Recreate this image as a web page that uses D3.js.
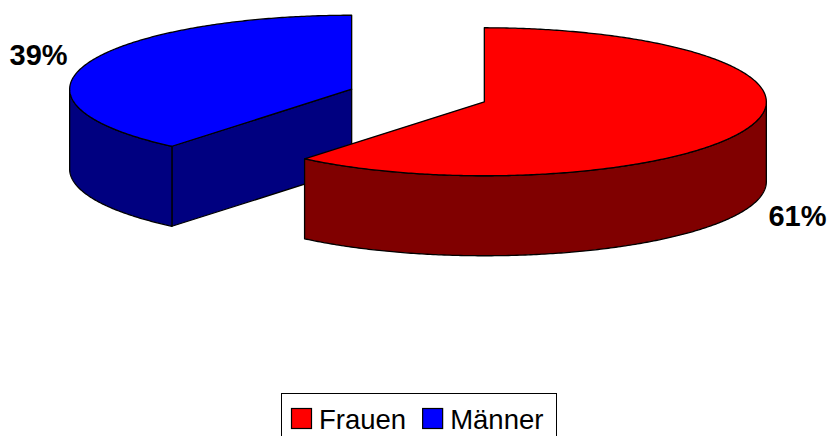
<!DOCTYPE html>
<html><head><meta charset="utf-8">
<script src="https://cdn.jsdelivr.net/npm/d3@7"></script>
<style>
html,body{margin:0;padding:0;background:#fff;}
svg{display:block;}
</style></head>
<body>
<svg id="chart" width="831" height="436"></svg>
<script>
// ---- data ----
const categories = ["Frauen", "Männer"];
const values = [61, 39];
const labels = ["61%", "39%"];
const topColors = ["#FF0000", "#0000FF"];
const sideColors = ["#800000", "#000080"];

// ---- layout ----
const W = 831, H = 436;
const cx = 418, cy = 95.5;     // base pie centre (top face)
const rx = 282, ry = 74;       // ellipse radii of the top face
const depth = 80;              // thickness of the pie
const explode = 0.25;          // radial explosion (fraction of radius)

const svg = d3.select("#chart");

const pie = d3.pie().sort(null).value(d => d)(values);

// scales map unit-circle coordinates to pixels
const sx = d3.scaleLinear().domain([-1, 1]).range([-rx, rx]);
const sy = d3.scaleLinear().domain([-1, 1]).range([-ry, ry]);

function pt(c, a, r = 1, ryk = r) {
  return [c[0] + sx(Math.sin(a) * r), c[1] + sy(-Math.cos(a) * ryk)];
}

const slices = pie.map((p, i) => {
  const mid = (p.startAngle + p.endAngle) / 2;
  const c = [cx + sx(Math.sin(mid) * explode), cy + sy(-Math.cos(mid) * explode)];
  return {p, i, mid, c};
}).sort((a, b) => a.c[1] - b.c[1]);

const line = d3.line();

function arcPts(c, a0, a1, dy = 0) {
  const n = Math.max(2, Math.ceil(Math.abs(a1 - a0) / 0.01));
  const out = [];
  for (let k = 0; k <= n; k++) {
    const a = a0 + (a1 - a0) * k / n;
    const q = pt(c, a);
    out.push([q[0], q[1] + dy]);
  }
  return out;
}

const g = svg.append("g");
const stroke = "#000", sw = 1.3;

slices.forEach(s => {
  const {p, i, c} = s;
  const a0 = p.startAngle, a1 = p.endAngle;
  const sg = g.append("g");

  // radial faces
  const radial = (a) => {
    const r = pt(c, a);
    return [c, r, [r[0], r[1] + depth], [c[0], c[1] + depth]];
  };
  if (Math.sin(a0) < -1e-6) {
    sg.append("path").attr("d", line(radial(a0)) + "Z")
      .attr("fill", sideColors[i]).attr("stroke", stroke).attr("stroke-width", sw).attr("stroke-linejoin", "round");
  }
  if (Math.sin(a1) > 1e-6) {
    sg.append("path").attr("d", line(radial(a1)) + "Z")
      .attr("fill", sideColors[i]).attr("stroke", stroke).attr("stroke-width", sw).attr("stroke-linejoin", "round");
  }

  // outer curved side (front half: PI/2 .. 3PI/2)
  const f0 = Math.max(a0, Math.PI / 2), f1 = Math.min(a1, 3 * Math.PI / 2);
  if (f1 > f0) {
    const topArc = arcPts(c, f0, f1);
    const botArc = arcPts(c, f1, f0, depth);
    sg.append("path").attr("d", line(topArc.concat(botArc)) + "Z")
      .attr("fill", sideColors[i]).attr("stroke", stroke).attr("stroke-width", sw).attr("stroke-linejoin", "round");
  }

  // top face
  const topPts = [c].concat(arcPts(c, a0, a1));
  sg.append("path").attr("d", line(topPts) + "Z")
    .attr("fill", topColors[i]).attr("stroke", stroke).attr("stroke-width", sw).attr("stroke-linejoin", "round");
});

// labels
slices.forEach(s => {
  const {i, mid, c} = s;
  const q = pt(c, mid, 1.18, 1.35);
  const dy = Math.cos(mid) < 0 ? depth : 0;
  svg.append("text")
    .attr("x", q[0]).attr("y", q[1] + dy)
    .attr("text-anchor", "middle")
    .attr("dominant-baseline", "central")
    .attr("font-family", "Liberation Sans, Arial, sans-serif")
    .attr("font-weight", "bold")
    .attr("font-size", 29)
    .attr("fill", "#000")
    .text(labels[i]);
});

// legend
const lg = svg.append("g");
lg.append("rect").attr("x", 281.5).attr("y", 393.5).attr("width", 275).attr("height", 60)
  .attr("fill", "#fff").attr("stroke", "#000").attr("stroke-width", 1);
let lx = 291;
categories.forEach((cat, i) => {
  lg.append("rect").attr("x", lx + 0.5).attr("y", 408.5).attr("width", 20).attr("height", 20)
    .attr("fill", topColors[i]).attr("stroke", "#000").attr("stroke-width", 1.2);
  const t = lg.append("text").attr("x", lx + 28).attr("y", 429)
    .attr("font-family", "Liberation Sans, Arial, sans-serif")
    .attr("font-size", 27.5).attr("fill", "#000").text(cat);
  lx = lx + 28 + t.node().getComputedTextLength() + 16;
});
</script>
</body></html>
